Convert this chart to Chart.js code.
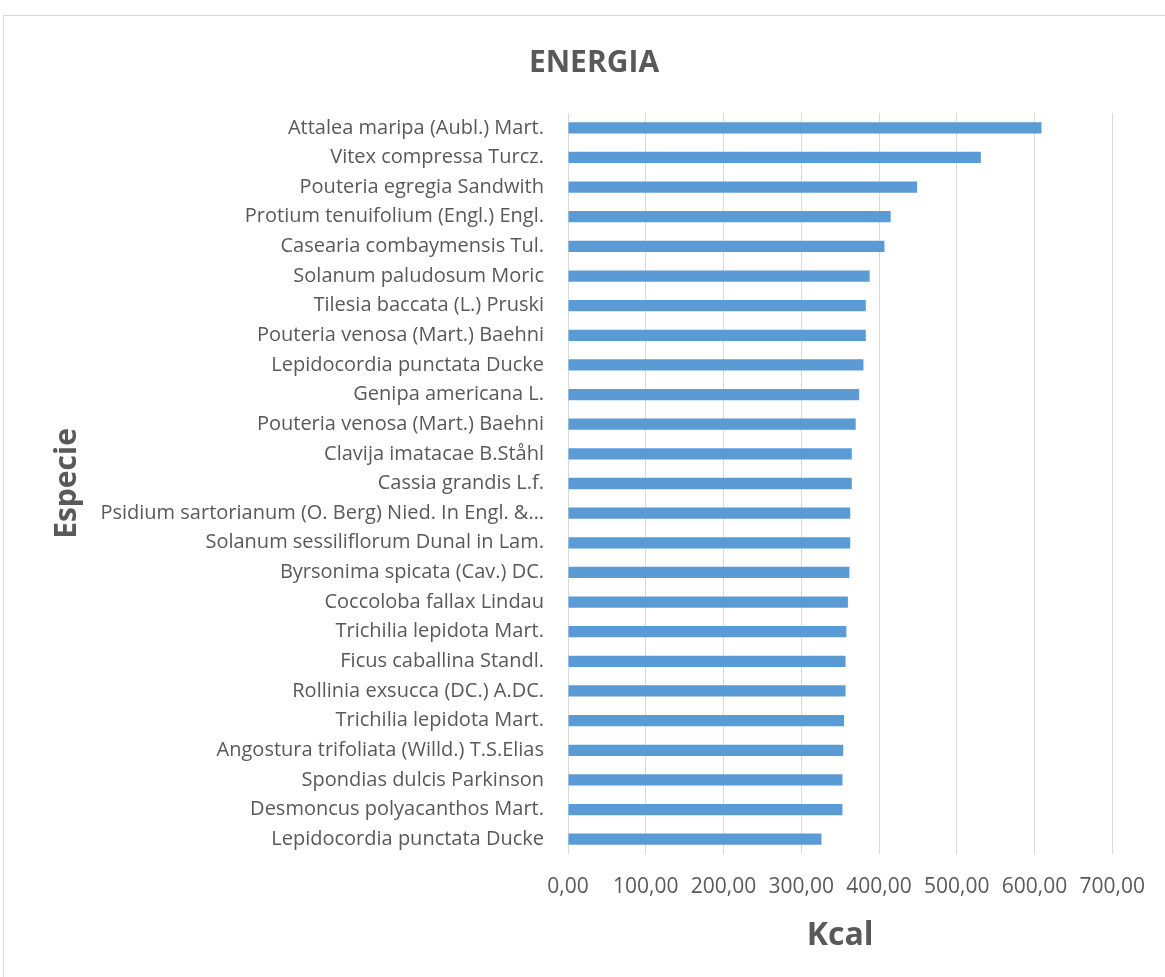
<!DOCTYPE html>
<html>
<head>
<meta charset="utf-8">
<script src="https://cdn.jsdelivr.net/npm/chart.js@4"></script>
<style>
  html, body { margin: 0; padding: 0; background: #fff; }
  #wrap { position: relative; width: 1165px; height: 977px; overflow: hidden; }
  #frame { position: absolute; left: 3px; top: 15px; width: 1170px; height: 970px; border: 1px solid #d9d9d9; box-sizing: border-box; }
  canvas { position: absolute; left: 0; top: 0; }
</style>
</head>
<body>
<div id="wrap">
  <div id="frame"></div>
  <canvas id="c" width="1165" height="977"></canvas>
</div>
<script>
// species names, top to bottom as in the chart
const species = [
  'Attalea maripa (Aubl.) Mart.',
  'Vitex compressa Turcz.',
  'Pouteria egregia Sandwith',
  'Protium tenuifolium (Engl.) Engl.',
  'Casearia combaymensis Tul.',
  'Solanum paludosum Moric',
  'Tilesia baccata (L.) Pruski',
  'Pouteria venosa (Mart.) Baehni',
  'Lepidocordia punctata Ducke',
  'Genipa americana L.',
  'Pouteria venosa (Mart.) Baehni',
  'Clavija imatacae B.Ståhl',
  'Cassia grandis L.f.',
  'Psidium sartorianum (O. Berg) Nied. In Engl. &…',
  'Solanum sessiliflorum Dunal in Lam.',
  'Byrsonima spicata (Cav.) DC.',
  'Coccoloba fallax Lindau',
  'Trichilia lepidota Mart.',
  'Ficus caballina Standl.',
  'Rollinia exsucca (DC.) A.DC.',
  'Trichilia lepidota Mart.',
  'Angostura trifoliata (Willd.) T.S.Elias',
  'Spondias dulcis Parkinson',
  'Desmoncus polyacanthos Mart.',
  'Lepidocordia punctata Ducke'
];

// energy in Kcal
const kcal = [609, 531, 449, 415, 407, 388, 383, 383, 380, 374.5, 370, 365, 365, 363, 363,
              362, 360, 358, 357, 357, 355, 354, 353, 353, 326];

const textColor = '#595959';

new Chart(document.getElementById('c').getContext('2d'), {
  type: 'bar',
  data: {
    labels: species,
    datasets: [{
      label: 'Kcal',
      data: kcal,
      backgroundColor: '#5b9bd5',
      barPercentage: 0.38,
      categoryPercentage: 1
    }]
  },
  options: {
    indexAxis: 'y',
    responsive: false,
    animation: false,
    layout: { padding: { left: 45, right: 22, top: 0, bottom: 0 } },
    plugins: {
      legend: { display: false },
      tooltip: { enabled: false },
      title: {
        display: true,
        text: 'ENERGIA',
        color: textColor,
        font: { family: 'Open Sans', size: 30, weight: 'bold' },
        padding: { top: 45, bottom: 32 }
      }
    },
    scales: {
      x: {
        min: 0,
        max: 700,
        ticks: {
          stepSize: 100,
          color: textColor,
          padding: 20,
          font: { family: 'Open Sans', size: 21 },
          callback: v => v.toFixed(2).replace('.', ',')
        },
        grid: { color: '#d9d9d9', lineWidth: 1, drawTicks: false },
        border: { display: false },
        title: {
          display: true,
          text: 'Kcal',
          color: textColor,
          font: { family: 'Open Sans', size: 32, weight: 'bold' },
          padding: { bottom: 22 }
        },
        afterFit: s => { s.height = 123; }
      },
      y: {
        ticks: {
          color: textColor,
          padding: 24,
          autoSkip: false,
          font: { family: 'Open Sans', size: 20 }
        },
        grid: { display: false, drawTicks: false },
        border: { display: false },
        title: {
          display: true,
          text: 'Especie',
          color: textColor,
          font: { family: 'Open Sans', size: 30, weight: 'bold' },
          padding: { top: 4 }
        },
        afterFit: s => { s.width = 523; }
      },
      // empty right-hand spacer so the plot ends where the reference's does
      spacer: {
        type: 'linear',
        axis: 'y',
        position: 'right',
        ticks: { display: false },
        grid: { display: false, drawTicks: false },
        border: { display: false },
        afterFit: s => { s.width = 27; }
      }
    }
  }
});
</script>
</body>
</html>
